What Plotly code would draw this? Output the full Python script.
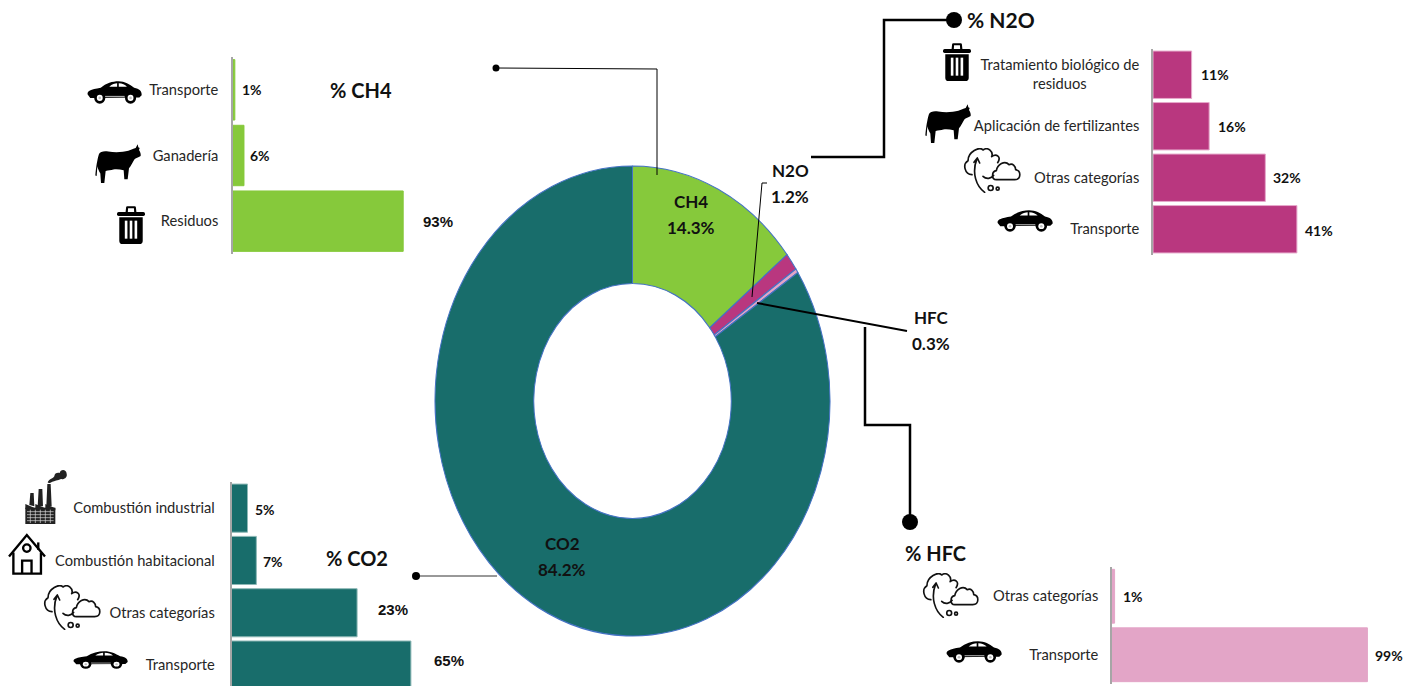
import base64
import plotly.graph_objects as go

W, H = 1407, 686

# ---------- data ----------
gas_names = ["CH4", "N2O", "HFC", "CO2"]
gas_shares = [14.3, 1.2, 0.3, 84.2]

ch4_categories = ["Transporte", "Ganadería", "Residuos"]
ch4_values = [1, 6, 93]

n2o_categories = ["Tratamiento biológico de<br>residuos" + "\u00a0" * 14, "Aplicación de fertilizantes",
                  "Otras categorías", "Transporte"]
n2o_values = [11, 16, 32, 41]

co2_categories = ["Combustión industrial", "Combustión habitacional", "Otras categorías", "Transporte"]
co2_values = [5, 7, 23, 65]
# The reference draws these bars out of proportion to their printed labels;
# these are the lengths as drawn, read against the 65 % bar.
co2_drawn_lengths = [5.8, 9, 45.5, 65]

hfc_categories = ["Otras categorías", "Transporte"]
hfc_values = [1, 99]

# ---------- styles ----------
FONT = "Lato"
ALT_FONT = "Liberation Sans"
TEAL, GREEN, MAGENTA, PINK = "#186D6B", "#86C93B", "#B9377F", "#E3A5C7"
EDGE = "#4472C4"
INK = "#111111"


def fx(x):
    return x / W


def fy(y):
    return 1 - y / H


# ---------- icons (decorative pictograms) ----------
def svg(vb_w, vb_h, body):
    s = (f'<svg xmlns="http://www.w3.org/2000/svg" viewBox="0 0 {vb_w} {vb_h}" '
         f'preserveAspectRatio="none">{body}</svg>')
    return "data:image/svg+xml;base64," + base64.b64encode(s.encode()).decode()


CAR = svg(168, 68, """
<path d="M2 40 C0 30 10 25 42 20 C58 7 78 1 96 1 C116 1 130 10 144 20 C160 23 168 30 167 42 L160 49 L10 50 Z" fill="#000"/>
<path d="M68 17 C76 10 86 7 92 7 L92 17 Z M97 7 C108 7 116 11 122 17 L97 17 Z" fill="#fff"/>
<rect x="55" y="44" width="60" height="3" fill="#bbb"/>
<circle cx="39" cy="50" r="17" fill="#000"/><circle cx="39" cy="50" r="9" fill="#fff"/><circle cx="39" cy="50" r="4" fill="#000" opacity=".25"/>
<circle cx="133" cy="50" r="17" fill="#000"/><circle cx="133" cy="50" r="9" fill="#fff"/><circle cx="133" cy="50" r="4" fill="#000" opacity=".25"/>
""")
COW = svg(138, 116, """
<path d="M1 94 C3 70 7 45 12 30 C16 22 26 20 40 22 C60 26 85 24 100 20 C108 18 116 14 122 12 L128 1 L130 10 L134 12 L132 18 C136 24 138 30 137 36 C130 40 122 42 118 46 C112 56 108 66 102 72 L98 105 L88 105 L86 78 C75 76 65 74 55 76 C48 78 40 78 32 80 L28 116 L18 116 L16 88 C12 80 8 72 7 66 L5 95 Z" fill="#000"/>
""")
TRASH = svg(86, 114, """
<path d="M26 22 L28 4 Q28 1 32 1 L54 1 Q58 1 58 4 L60 22 L53 22 L52 7 L34 7 L33 22 Z" fill="#000"/>
<rect x="0" y="18" width="86" height="12" rx="5" fill="#000"/>
<path d="M7 34 L79 34 L79 104 Q79 114 69 114 L17 114 Q7 114 7 104 Z" fill="#000"/>
<rect x="24" y="44" width="8" height="54" fill="#fff"/><rect x="39" y="44" width="8" height="54" fill="#fff"/><rect x="54" y="44" width="8" height="54" fill="#fff"/>
""")
CLOUD = svg(174, 135, """
<g fill="none" stroke="#111" stroke-width="5" stroke-linecap="round" stroke-linejoin="round">
<path d="M27 80 C5 80 -2 48 15 38 C15 10 50 -5 60 6 C75 -5 92 12 86 26 C100 16 116 26 104 44"/>
<path d="M60 85 C70 95 85 92 92 82"/>
<path d="M100 95 C85 95 85 70 100 68 C103 50 125 35 138 50 C150 45 158 55 158 65 C175 68 175 95 155 95 Z"/>
<path d="M65 133 C40 115 25 75 42 32 M33 43 L43 30 L50 45"/>
<circle cx="83" cy="120" r="7.5"/><circle cx="104" cy="122" r="4.5"/>
</g>
""")
HOUSE = svg(113, 125, """
<g fill="none" stroke="#000" stroke-width="7">
<path d="M3 70 L56 6 L110 70"/>
<path d="M16 58 L16 121 L98 121 L98 58"/>
<circle cx="56" cy="45" r="11"/>
<path d="M42 121 L42 82 L70 82 L70 121"/>
<path d="M90 28 L90 50"/>
</g>
""")
FACTORY = svg(150, 165, """
<rect x="25" y="116" width="90" height="49" fill="#222"/>
<path d="M25 120 L25 105 L55 118 L55 105 L85 118 L85 105 L115 118 L115 124 Z" fill="#222"/>
<path d="M37 108 L40 72 L50 72 L52 112 Z M62 112 L65 60 L76 60 L78 112 Z M88 112 L91 45 L101 45 L104 112 Z" fill="#222"/>
<g stroke="#ddd" stroke-width="2"><path d="M30 128 H110 M30 137 H110 M30 146 H110 M30 155 H110 M40 122 V162 M55 122 V162 M70 122 V162 M85 122 V162 M100 122 V162"/></g>
<path d="M92 40 C98 28 108 30 112 22 C112 12 122 10 128 12 C130 0 148 0 149 14 C152 26 140 32 132 30 C122 34 112 36 106 38 C100 42 94 44 92 40 Z" fill="#222"/>
""")

icons = [
    (CAR, 87, 81, 142, 104), (COW, 95, 144, 141, 183), (TRASH, 117, 206, 145, 244),
    (TRASH, 943, 43, 971, 81), (COW, 925, 104, 971, 143), (CLOUD, 963, 148, 1021, 193), (CAR, 997, 210, 1053, 232),
    (FACTORY, 17, 469, 67, 524), (HOUSE, 8, 533, 46, 575), (CLOUD, 43, 585, 101, 630), (CAR, 73, 651, 128, 669),
    (CLOUD, 922, 573, 979, 618), (CAR, 946, 641, 1002, 663),
]
images = [dict(source=src, xref="paper", yref="paper", x=fx(x0), y=fy(y0),
               sizex=(x1 - x0) / W, sizey=(y1 - y0) / H, xanchor="left", yanchor="top",
               sizing="stretch", layer="above")
          for src, x0, y0, x1, y1 in icons]

# ---------- donut ----------
DONUT_CX, DONUT_CY, DONUT_RX, DONUT_RY = 632.5, 401, 197.5, 235
fig = go.Figure()
fig.add_trace(go.Pie(
    labels=gas_names, values=gas_shares, sort=False, direction="clockwise", rotation=0, hole=0.5,
    marker=dict(colors=[GREEN, MAGENTA, PINK, TEAL], line=dict(color=EDGE, width=1)),
    textinfo="none", hoverinfo="skip", showlegend=False,
    domain=dict(x=[fx(DONUT_CX - DONUT_RX), fx(DONUT_CX + DONUT_RX)],
                y=[fy(DONUT_CY + DONUT_RX), fy(DONUT_CY - DONUT_RX)]),
))

# ---------- bar panels ----------
panels = [
    dict(cats=ch4_categories, vals=ch4_values, drawn=ch4_values, color=GREEN, edge=GREEN, base=233, px_per=1.83,
         right=416, top=57, bottom=254, band=None, gaps=[5, 4, 18], yshift=[0, 0, 0], standoff=10,
         fonts=[FONT, FONT, ALT_FONT]),
    dict(cats=n2o_categories, vals=n2o_values, drawn=n2o_values, color=MAGENTA, edge="#E6A9CB", base=1153, px_per=3.51,
         right=1400, top=49, bottom=255, band=None, gaps=[7, 7, 6, 6], yshift=[0, 0, 0, -1], standoff=9,
         fonts=[FONT] * 4),
    dict(cats=co2_categories, vals=co2_values, drawn=co2_drawn_lengths, color=TEAL, edge="#8DB8B6", base=231.5, px_per=2.76,
         right=440, top=482, bottom=686, band=52.3, gaps=[5, 5, 19, 21], yshift=[-1, -1, 3, 5], standoff=12,
         fonts=[FONT, FONT, ALT_FONT, ALT_FONT]),
    dict(cats=hfc_categories, vals=hfc_values, drawn=hfc_values, color=PINK, edge=PINK, base=1112, px_per=2.58,
         right=1400, top=567, bottom=684, band=None, gaps=[6, 6], yshift=[0, -1], standoff=9,
         fonts=[FONT] * 2),
]
annotations = []
layout_axes = {}
for i, p in enumerate(panels):
    ax = "" if i == 0 else str(i + 1)
    n = len(p["cats"])
    fig.add_trace(go.Bar(
        x=p["drawn"], y=p["cats"], orientation="h", xaxis=f"x{ax}", yaxis=f"y{ax}", width=0.92,
        marker=dict(color=p["color"], line=dict(color=p["edge"], width=1)),
        hoverinfo="skip", showlegend=False,
    ))
    span = p["bottom"] - p["top"]
    y_max = span / p["band"] - 0.5 if p["band"] else n - 0.5
    layout_axes[f"xaxis{ax}"] = dict(domain=[fx(p["base"]), fx(p["right"])],
                                     range=[0, (p["right"] - p["base"]) / p["px_per"]],
                                     visible=False, anchor=f"y{ax}")
    layout_axes[f"yaxis{ax}"] = dict(domain=[fy(p["bottom"]), fy(p["top"])], anchor=f"x{ax}",
                                     type="category", categoryorder="array", categoryarray=p["cats"],
                                     range=[y_max, -0.5], showline=True, linecolor="#A6A6A6", linewidth=1.5,
                                     showgrid=False, zeroline=False, ticks="", ticklabelstandoff=p["standoff"],
                                     tickfont=dict(family=FONT, size=14.7, color="#262626"))
    for cat, v, d, gap, ys, fam in zip(p["cats"], p["vals"], p["drawn"], p["gaps"], p["yshift"], p["fonts"]):
        annotations.append(dict(x=d, y=cat, xref=f"x{ax}", yref=f"y{ax}", text=f"<b>{v}%</b>", showarrow=False,
                                xanchor="left", xshift=gap, yshift=ys,
                                font=dict(family=fam, size=14 if fam == FONT else 15, color=INK)))


# ---------- free text ----------
def note(text, x, y, size=17, xanchor="center"):
    annotations.append(dict(x=fx(x), y=fy(y), xref="paper", yref="paper", text=text, showarrow=False,
                            xanchor=xanchor, yanchor="middle", align="center",
                            font=dict(family=FONT, size=size, color=INK)))


note("<b>% CH4</b>", 361, 90, 20)
note("<b>% N2O</b>", 1001, 20, 21)
note("<b>% CO2</b>", 357, 558, 20)
note("<b>% HFC</b>", 935, 553, 20)
label_pos = {"CH4": (691, 214), "N2O": (790, 183), "HFC": (931, 330), "CO2": (562, 556)}
for name, share in zip(gas_names, gas_shares):
    x, y = label_pos[name]
    note(f"<b>{name}</b>", x, y - 13, 17)
    note(f"<b>{share}%</b>", x, y + 13, 17)


# ---------- leader lines ----------
def polyline(points, width, color="#000"):
    path = "M " + " L ".join(f"{fx(x)} {fy(y)}" for x, y in points)
    return dict(type="path", xref="paper", yref="paper", path=path, line=dict(color=color, width=width), layer="above")


def dot(x, y, r):
    return dict(type="circle", xref="paper", yref="paper", x0=fx(x - r), x1=fx(x + r), y0=fy(y + r), y1=fy(y - r),
                fillcolor="#000", line=dict(color="#000", width=0), layer="above")


shapes = [
    polyline([(496, 68), (657, 69), (657, 175)], 1), dot(496, 68, 3.5),
    polyline([(811, 157), (884, 157), (884, 20), (954, 20)], 2.5), dot(954, 20, 8),
    polyline([(767, 183), (762, 183), (752, 297)], 1),
    polyline([(757, 303), (907, 331)], 2),
    polyline([(865, 327), (865, 425), (910, 425), (910, 522)], 2.5), dot(910, 522, 8),
    polyline([(416, 576), (497, 576)], 1, "#333"), dot(416, 576, 4),
]

fig.update_layout(
    width=W, height=H, margin=dict(l=0, r=0, t=0, b=0), autosize=False,
    paper_bgcolor="white", plot_bgcolor="rgba(0,0,0,0)", font=dict(family=FONT),
    showlegend=False, barmode="overlay",
    annotations=annotations, shapes=shapes, images=images, **layout_axes,
)

# The reference's donut is an ellipse (stretched vertically); a pie trace is always round,
# so the finished pie layer is stretched about its centre.
sy = DONUT_RY / DONUT_RX
post = f"""
document.body.style.margin = '0';
document.documentElement.style.overflow = 'hidden';
var gd = document.getElementById('{{plot_id}}');
var layer = gd.querySelector('.pielayer');
if (layer) layer.setAttribute('transform',
  'translate({DONUT_CX} {DONUT_CY}) scale(1 {sy}) translate({-DONUT_CX} {-DONUT_CY})');
"""
fig.write_html("out.html", post_script=post, config=dict(displayModeBar=False))
